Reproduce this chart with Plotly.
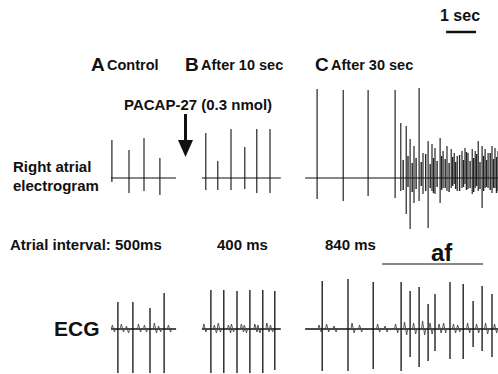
import plotly.graph_objects as go

# ---------------- data (times in s relative to segment start, amplitudes in arbitrary units) ----
segments = ["A", "B", "C"]
segment_start_s = [3.70, 6.73, 10.17]
segment_end_s = [5.87, 9.36, 16.60]

atrial_times_A = [0.03, 0.60, 1.10, 1.63]
atrial_up_A = [3.8, 2.8, 4.0, 2.0]
atrial_down_A = [0.4, 1.5, 1.3, 1.7]

atrial_times_B = [0.13, 0.53, 0.97, 1.43, 1.83, 2.27]
atrial_up_B = [4.5, 1.7, 4.9, 3.1, 4.9, 4.9]
atrial_down_B = [1.2, 1.2, 1.2, 1.1, 1.5, 1.5]

atrial_times_C = [0.40, 1.27, 2.10, 3.00, 3.19, 3.37, 3.50, 3.63, 3.80, 3.93, 4.10, 4.23,
                  4.33, 4.50, 4.60, 4.73, 4.87, 4.97, 5.07, 5.23, 5.33, 5.43, 5.57, 5.67,
                  5.77, 5.90, 6.00, 6.10, 6.23, 6.33, 6.43]
atrial_up_C = [8.9, 8.8, 8.8, 8.8, 5.5, 5.2, 3.9, 3.2, 9.0, 2.5, 3.7, 3.4,
               3.0, 4.0, 2.7, 3.2, 2.9, 2.5, 2.2, 2.7, 3.0, 2.5, 2.9, 2.7,
               3.7, 3.2, 2.9, 2.5, 3.2, 3.0, 2.7]
atrial_down_C = [2.1, 2.3, 1.8, 2.0, 1.3, 3.6, 5.1, 2.5, 2.3, 1.6, 5.0, 1.3,
                 1.6, 2.5, 1.0, 1.3, 1.0, 0.6, 1.3, 1.0, 0.6, 1.1, 1.6, 1.0,
                 1.3, 3.0, 1.0, 1.0, 1.5, 1.0, 1.3]

# smaller fibrillatory deflections during af (panel C)
af_minor_times = [3.27, 3.43, 3.57, 3.70, 3.87, 4.02, 4.17, 4.28, 4.40, 4.55, 4.67, 4.80, 4.92,
                  5.02, 5.15, 5.28, 5.38, 5.50, 5.62, 5.72, 5.83, 5.95, 6.05, 6.17, 6.28, 6.38]
af_minor_up = [1.8, 2.2, 1.5, 2.0, 1.6, 2.4, 1.4, 2.0, 1.7, 2.2, 1.9, 1.5, 2.1,
               1.6, 2.3, 1.8, 2.6, 1.7, 2.0, 2.4, 1.6, 2.2, 1.8, 2.5, 1.9, 2.1]
af_minor_down = [1.2, 0.9, 1.4, 1.1, 0.8, 1.3, 1.0, 1.5, 0.9, 1.2, 1.0, 1.4, 0.8,
                 1.1, 1.3, 0.9, 1.2, 1.0, 1.4, 0.8, 1.1, 1.3, 0.9, 1.2, 1.0, 1.5]

ecg_times_A = [0.23, 0.73, 1.30, 1.77]
ecg_up_A = [2.7, 2.7, 2.1, 3.6]
ecg_down_A = [4.4, 4.4, 4.4, 4.4]

ecg_times_B = [0.30, 0.73, 1.17, 1.60, 2.03, 2.43]
ecg_up_B = [3.9, 3.9, 3.8, 3.9, 3.9, 3.8]
ecg_down_B = [4.4, 4.4, 4.4, 4.4, 4.4, 4.1]

ecg_times_C = [0.57, 1.43, 2.27, 3.20, 3.50, 3.80, 4.10, 4.33, 4.83, 5.27, 5.60, 5.90, 6.23]
ecg_up_C = [4.8, 5.0, 4.7, 4.7, 3.8, 4.2, 2.5, 3.5, 4.7, 4.5, 2.8, 4.3, 3.5]
ecg_down_C = [4.2, 4.2, 4.0, 4.2, 2.8, 3.8, 3.2, 2.2, 3.0, 3.0, 1.8, 2.2, 2.8]

# small baseline (P / T wave) wiggles on the ECG
ecg_minor_times_A = [0.08, 0.38, 0.55, 0.95, 1.15, 1.48, 1.62, 1.95]
ecg_minor_up_A = [0.4, 0.5, 0.3, 0.5, 0.4, 0.6, 0.3, 0.4]
ecg_minor_down_A = [0.3, 0.3, 0.4, 0.3, 0.3, 0.4, 0.3, 0.3]
ecg_minor_times_B = [0.10, 0.45, 0.58, 0.92, 1.02, 1.35, 1.45, 1.80, 1.90, 2.20, 2.32]
ecg_minor_up_B = [0.5, 0.4, 0.6, 0.4, 0.5, 0.5, 0.4, 0.5, 0.4, 0.6, 0.4]
ecg_minor_down_B = [0.3, 0.4, 0.3, 0.4, 0.3, 0.3, 0.4, 0.3, 0.4, 0.3, 0.3]
ecg_minor_times_C = [0.50, 0.75, 1.00, 1.60, 1.85, 2.45, 2.70, 3.05, 3.35, 3.65, 3.95, 4.20,
                     4.50, 4.65, 4.98, 5.12, 5.45, 5.75, 6.05, 6.35]
ecg_minor_up_C = [0.4, 0.5, 0.3, 0.6, 0.4, 0.5, 0.3, 0.5, 0.7, 0.6, 0.8, 0.6,
                  0.5, 0.6, 0.5, 0.4, 0.6, 0.5, 0.6, 0.5]
ecg_minor_down_C = [0.3, 0.3, 0.3, 0.4, 0.3, 0.3, 0.3, 0.4, 0.6, 0.5, 0.6, 0.5,
                    0.4, 0.4, 0.4, 0.3, 0.4, 0.4, 0.5, 0.4]

panel_titles = ["Control", "After 10 sec", "After 30 sec"]
interval_labels = ["Atrial interval: 500ms", "400 ms", "840 ms"]
scale_bar_s = 1.0

W, H = 498, 374


def build_trace(times_list, ups, downs, with_baseline=True):
    xs, ys = [], []
    for k in range(len(times_list)):
        s0, s1 = segment_start_s[k], segment_end_s[k]
        if with_baseline:
            xs += [s0, s1, None]
            ys += [0, 0, None]
        for t, u, d in zip(times_list[k], ups[k], downs[k]):
            xs += [s0 + t, s0 + t, None]
            ys += [u, -d, None]
    return xs, ys


def build_wiggles(times_list, ups, downs, half_width=0.035):
    xs, ys = [], []
    for k in range(len(times_list)):
        s0 = segment_start_s[k]
        for t, u, d in zip(times_list[k], ups[k], downs[k]):
            c = s0 + t
            xs += [c - 2 * half_width, c - half_width, c + half_width, c + 2 * half_width, None]
            ys += [0, u, -d, 0, None]
    return xs, ys


ax, ay = build_trace([atrial_times_A, atrial_times_B, atrial_times_C],
                     [atrial_up_A, atrial_up_B, atrial_up_C],
                     [atrial_down_A, atrial_down_B, atrial_down_C])
mx, my = build_trace([[], [], af_minor_times], [[], [], af_minor_up],
                     [[], [], af_minor_down], with_baseline=False)
ex, ey = build_trace([ecg_times_A, ecg_times_B, ecg_times_C],
                     [ecg_up_A, ecg_up_B, ecg_up_C],
                     [ecg_down_A, ecg_down_B, ecg_down_C])
nx, ny = build_wiggles([ecg_minor_times_A, ecg_minor_times_B, ecg_minor_times_C],
                       [ecg_minor_up_A, ecg_minor_up_B, ecg_minor_up_C],
                       [ecg_minor_down_A, ecg_minor_down_B, ecg_minor_down_C])

fig = go.Figure()
fig.add_trace(go.Scatter(x=ax, y=ay, mode="lines", line=dict(color="#111", width=1.1),
                         hoverinfo="skip", yaxis="y"))
fig.add_trace(go.Scatter(x=mx, y=my, mode="lines", line=dict(color="#222", width=1.4),
                         hoverinfo="skip", yaxis="y"))
fig.add_trace(go.Scatter(x=ex, y=ey, mode="lines", line=dict(color="#111", width=1.3),
                         hoverinfo="skip", yaxis="y2"))
fig.add_trace(go.Scatter(x=nx, y=ny, mode="lines", line=dict(color="#444", width=0.9),
                         hoverinfo="skip", yaxis="y2"))

FONT = "Liberation Sans, Arial, sans-serif"


def px(xp, yp):
    return xp / W, 1 - yp / H


def text(s, xp, yp, size, anchor="left"):
    x, y = px(xp, yp)
    fig.add_annotation(text="<b>" + s + "</b>", x=x, y=y, xref="paper", yref="paper",
                       xanchor=anchor, yanchor="middle", showarrow=False,
                       font=dict(family=FONT, size=size, color="#111"))


# panel titles
letter_x = [89, 183, 313]
for L, t, lx in zip(segments, panel_titles, letter_x):
    text(L, lx, 64, 19)
    text(t, lx + 16, 65, 14.5)

text("1 sec", 460, 15, 16, anchor="center")
text("PACAP-27 (0.3 nmol)", 198, 104, 15, anchor="center")
text("Right atrial", 11, 166, 15)
text("electrogram", 11, 185, 15)
text(interval_labels[0], 8, 245, 15)
text(interval_labels[1], 242, 244, 15, anchor="center")
text(interval_labels[2], 350, 244, 15, anchor="center")
text("af", 442, 252, 24, anchor="center")
text("ECG", 77, 328, 21, anchor="center")

shapes = []
# 1 sec scale bar (in time units)
shapes.append(dict(type="line", xref="x", yref="paper", x0=14.87, x1=14.87 + scale_bar_s,
                   y0=1 - 32 / H, y1=1 - 32 / H, line=dict(color="#111", width=2.5)))
# af underline
shapes.append(dict(type="line", xref="paper", yref="paper", x0=382 / W, x1=483 / W,
                   y0=1 - 264 / H, y1=1 - 264 / H, line=dict(color="#111", width=1)))
# arrow
shapes.append(dict(type="line", xref="paper", yref="paper", x0=185.5 / W, x1=185.5 / W,
                   y0=1 - 114 / H, y1=1 - 142 / H, line=dict(color="#111", width=3)))
p = [(178, 140), (193, 140), (185.5, 157)]
path = "M {} {} L {} {} L {} {} Z".format(*[v for (a, b) in p for v in (a / W, 1 - b / H)])
shapes.append(dict(type="path", xref="paper", yref="paper", path=path,
                   fillcolor="#111", line=dict(color="#111", width=0)))

fig.update_layout(
    width=W, height=H, margin=dict(l=0, r=0, t=0, b=0),
    paper_bgcolor="white", plot_bgcolor="white", showlegend=False,
    xaxis=dict(range=[0, W / 30], visible=False, fixedrange=True),
    yaxis=dict(range=[-(H - 178) / 10, 178 / 10], visible=False, fixedrange=True),
    yaxis2=dict(range=[-(H - 329) / 10, 329 / 10], visible=False, overlaying="y",
                fixedrange=True),
    shapes=shapes,
)

fig.write_html("out.html", config={"displayModeBar": False},
               post_script="document.body.style.margin='0px';"
                           "document.body.style.overflow='hidden';")
